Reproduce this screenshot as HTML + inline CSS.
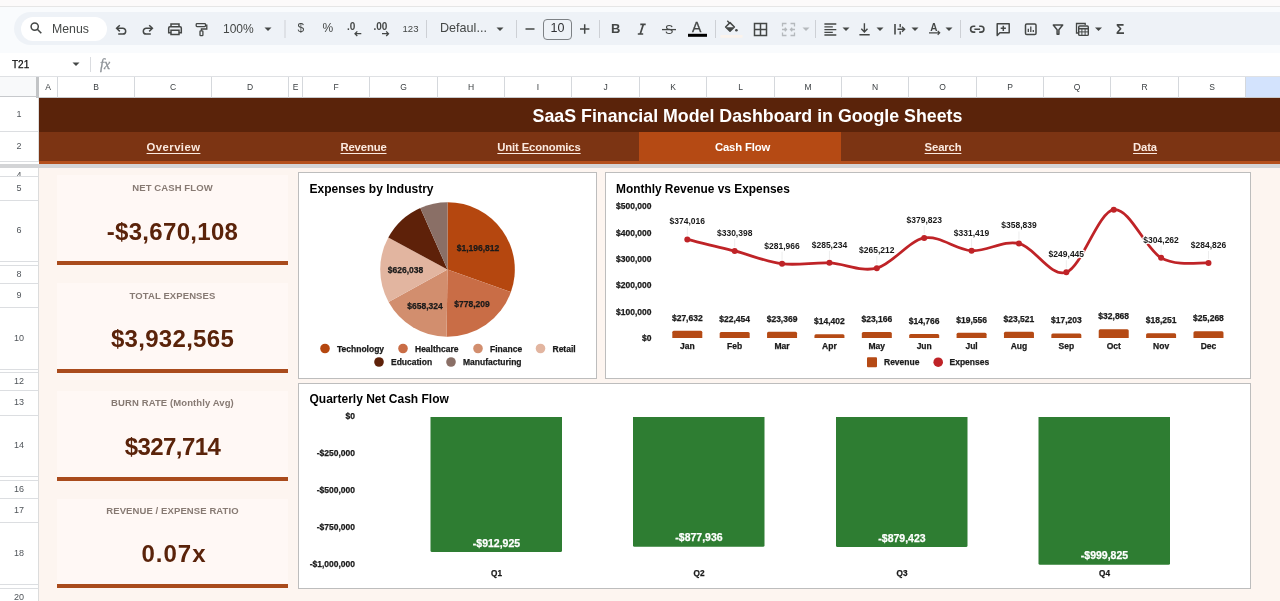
<!DOCTYPE html><html lang="en"><head><meta charset="utf-8"><title>SaaS Financial Model Dashboard in Google Sheets</title><style>
*{box-sizing:border-box;margin:0;padding:0}
html,body{width:1280px;height:601px;overflow:hidden;background:#fff}
body{font-family:"Liberation Sans",sans-serif;position:relative;color:#202124}
.a{position:absolute}
.t{position:absolute;white-space:nowrap;text-align:center}
.hdr{position:absolute;top:77px;height:21px;background:#fff;border-right:1px solid #d5d8dc;border-bottom:1px solid #c7c9cc;font-size:8.5px;color:#3c4043;text-align:center;line-height:21px}
.rh{position:absolute;left:0;width:39px;background:#fff;border-bottom:1px solid #dcdee1;border-right:1px solid #dcdcdc;font-size:9px;color:#50555a;text-align:center;overflow:hidden}
.nav{position:absolute;top:132px;height:29px;line-height:30px;color:#fbe9df;font-weight:bold;font-size:11.3px;letter-spacing:-.15px;text-align:center;text-decoration:underline;text-underline-offset:1.5px;text-decoration-thickness:1.2px}
.kl{position:absolute;left:57px;width:231px;text-align:center;font-size:9.5px;letter-spacing:.1px;font-weight:bold;color:#877a73}
.kv{position:absolute;left:57px;width:231px;text-align:center;font-size:24px;font-weight:bold;color:#5a230a;letter-spacing:.3px}
.kb{position:absolute;left:57px;width:231px;height:4px;background:#a94b1c}
.kc{position:absolute;left:57px;width:231px;background:#fff8f5}
.fr{position:absolute;background:#fff;border:1px solid #bdbdbd}
svg{position:absolute;left:0;top:0;overflow:visible}
svg text{font-family:"Liberation Sans",sans-serif}
</style></head><body>
<div class="a" style="left:0;top:0;width:1280px;height:7px;background:#fcfafa;border-bottom:1px solid #e6e6e6"></div>
<div class="a" style="left:0;top:7px;width:1280px;height:46px;background:#f9fbfd"></div>
<div class="a" style="left:14px;top:12px;width:1300px;height:33px;background:#eef2f7;border-radius:17px"></div>
<div class="a" style="left:21px;top:17px;width:86px;height:24px;background:#fff;border-radius:12px"></div>
<div class="t" style="left:52px;top:20.500px;font-size:12.300px;color:#444746;line-height:16px">Menus</div>
<div class="t" style="left:223px;top:21px;font-size:12px;color:#444746;line-height:16px">100%</div>
<div class="t" style="left:297.500px;top:20px;font-size:12px;color:#444746;line-height:16px">$</div>
<div class="t" style="left:322.500px;top:20px;font-size:12px;color:#444746;line-height:16px">%</div>
<div class="t" style="left:402.500px;top:20.500px;font-size:9.600px;color:#444746;line-height:16px">123</div>
<div class="t" style="left:440px;top:20px;font-size:12.600px;color:#444746;line-height:16px">Defaul...</div>
<div class="a" style="left:543px;top:19px;width:29px;height:21px;border:1px solid #7d8185;border-radius:4px"></div>
<div class="t" style="left:543px;width:29px;top:20.200px;font-size:12.500px;color:#303134;line-height:16px">10</div>
<div class="t" style="left:611px;top:21px;font-size:13px;font-weight:bold;color:#444746;line-height:16px">B</div>
<div class="t" style="left:692px;top:19px;font-size:14px;color:#444746;line-height:16px;-webkit-text-stroke:.3px #444746">A</div>
<div class="t" style="left:1116px;top:21px;font-size:14px;font-weight:bold;color:#444746;line-height:16px">&Sigma;</div>
<div class="t" style="left:12px;top:56.800px;font-size:10px;color:#111;-webkit-text-stroke:.25px #111;line-height:16px">T21</div>
<div class="t" style="left:100px;top:57px;font-size:14px;font-style:italic;color:#8d9297;-webkit-text-stroke:.3px #8d9297;line-height:16px;font-family:'Liberation Serif',serif">fx</div>
<div class="a" style="left:90px;top:57px;width:1px;height:15px;background:#dadce0"></div>
<svg width="1280" height="76" viewBox="0 0 1280 76"><rect x="284.5" y="20" width="1" height="18" fill="#cdd0d5"/><rect x="426" y="20" width="1" height="18" fill="#cdd0d5"/><rect x="516" y="20" width="1" height="18" fill="#cdd0d5"/><rect x="599" y="20" width="1" height="18" fill="#cdd0d5"/><rect x="715" y="20" width="1" height="18" fill="#cdd0d5"/><rect x="815" y="20" width="1" height="18" fill="#cdd0d5"/><rect x="960" y="20" width="1" height="18" fill="#cdd0d5"/><path d="M264.5 27.5h7l-3.5 3.5z" fill="#444746"/><path d="M496.5 27.5h7l-3.5 3.5z" fill="#444746"/><path d="M802.5 27.5h7l-3.5 3.5z" fill="#b5b9bd"/><path d="M842.5 27.5h7l-3.5 3.5z" fill="#444746"/><path d="M876.5 27.5h7l-3.5 3.5z" fill="#444746"/><path d="M911.5 27.5h7l-3.5 3.5z" fill="#444746"/><path d="M945.5 27.5h7l-3.5 3.5z" fill="#444746"/><path d="M1095.0 27.5h7l-3.5 3.5z" fill="#444746"/><path d="M72.5 62.5h7l-3.5 3.5z" fill="#444746"/><circle cx="34.700" cy="26.600" r="3.600" fill="none" stroke="#444746" stroke-width="1.500"/><path d="M37.300 29.200l4 4.100" stroke="#444746" stroke-width="1.600" fill="none"/><path d="M117 28.300h5.800a2.900 2.900 0 0 1 0 5.800h-4.600" fill="none" stroke="#444746" stroke-width="1.500"/><path d="M119.800 25.200l-3.200 3.100 3.200 3.100" fill="none" stroke="#444746" stroke-width="1.500"/><path d="M152 28.300h-5.800a2.900 2.900 0 0 0 0 5.800h4.600" fill="none" stroke="#444746" stroke-width="1.500"/><path d="M149.200 25.200l3.200 3.100-3.200 3.100" fill="none" stroke="#444746" stroke-width="1.500"/><path d="M171 26.700v-2.800h8v2.800M171 32.800h-2.300v-4.900a1.200 1.200 0 0 1 1.200-1.200h10.200a1.200 1.200 0 0 1 1.200 1.200v4.900h-2.300M171 30.300h8v4.300h-8z" fill="none" stroke="#444746" stroke-width="1.500"/><rect x="196.200" y="23.600" width="9.300" height="3" rx=".800" fill="none" stroke="#444746" stroke-width="1.300"/><path d="M205.500 25.100h1.300v3.900h-5.400v1.700" fill="none" stroke="#444746" stroke-width="1.300"/><rect x="200" y="30.900" width="2.900" height="4.800" rx=".700" fill="none" stroke="#444746" stroke-width="1.300"/><text x="347" y="30.300" font-size="10" font-weight="bold" fill="#444746">.0</text><path d="M355 33.700h6.300M357.300 31.400l-2.300 2.300 2.300 2.300" stroke="#444746" stroke-width="1.300" fill="none"/><text x="373.500" y="30.300" font-size="10" font-weight="bold" fill="#444746">.00</text><path d="M382 33.700h6.500M386.200 31.400l2.300 2.300-2.300 2.300" stroke="#444746" stroke-width="1.300" fill="none"/><path d="M525.500 29h9" stroke="#444746" stroke-width="1.500"/><path d="M580 29h9.400M584.700 24.300v9.400" stroke="#444746" stroke-width="1.500"/><path d="M640.300 24.300h5.400M637.800 34h5.400M643.400 24.300l-3.200 9.700" stroke="#444746" stroke-width="1.700" fill="none"/><text x="665" y="34" font-size="12.5" fill="#444746">S</text><path d="M662 29.6h14" stroke="#444746" stroke-width="1.3"/><rect x="688" y="33.800" width="19" height="3" fill="#000"/><path d="M727.300 20.800l2.400 2.400" stroke="#444746" stroke-width="1.400" fill="none"/><path d="M730 22.600l4.400 4.400-4.400 4.300-4.400-4.300z" fill="none" stroke="#444746" stroke-width="1.500" stroke-linejoin="round"/><path d="M726 27.200h8l-4 4z" fill="#444746"/><circle cx="736.400" cy="30.300" r="1.300" fill="#444746"/><rect x="720.500" y="35" width="22" height="2.800" fill="#fbf3ec"/><path d="M754.500 23.500h12v12h-12zM760.500 23.500v12M754.500 29.500h12" fill="none" stroke="#444746" stroke-width="1.500"/><path d="M782.500 26.500v-3h4M794.500 26.500v-3h-4M782.500 32.500v3h4M794.500 32.500v3h-4M782 29.500h4M795 29.500h-4M784.800 27.800l1.700 1.700-1.700 1.700M792.200 27.800l-1.700 1.700 1.700 1.700" fill="none" stroke="#b5b9bd" stroke-width="1.300"/><path d="M824.400 24h11.900M824.400 26.900h8.400M824.400 29.600h11.900M824.400 32.300h8.400M824.400 35h11.900" stroke="#444746" stroke-width="1.300"/><path d="M864.400 23.300v8.500M861.300 28.800l3.100 3.200 3.100-3.200M859.400 34.700h10.300" stroke="#444746" stroke-width="1.400" fill="none"/><path d="M895 24v10.500" stroke="#444746" stroke-width="1.600" fill="none"/><path d="M900.200 24v3.200M900.200 31.300v3.200M897.500 29.250h6.500M902 26.700l2.600 2.550-2.600 2.550" stroke="#444746" stroke-width="1.400" fill="none"/><text x="930.300" y="30.800" font-size="10" font-weight="bold" fill="#444746">A</text><path d="M929 32.800h10.500M937.700 30.800l2 2-2 2" stroke="#444746" stroke-width="1.200" fill="none"/><path d="M975.300 26.300h-1.800a2.900 2.900 0 0 0 0 5.800h1.800M979.200 26.300h1.800a2.900 2.900 0 0 1 0 5.800h-1.800M974.400 29.200h5.700" stroke="#444746" stroke-width="1.600" fill="none"/><path d="M997.200 23.800h12v9h-9.300l-2.700 2.700zM1003.300 25.700v5.200M1000.700 28.300h5.200" stroke="#444746" stroke-width="1.500" fill="none" stroke-linejoin="round"/><rect x="1025.500" y="24" width="10.500" height="10.500" rx="1.300" fill="none" stroke="#444746" stroke-width="1.500"/><path d="M1028.300 32v-3.300M1030.800 32v-5.500M1033.300 32v-2" stroke="#444746" stroke-width="1.300" fill="none"/><path d="M1053.300 25h9.400l-3.800 4.800v4.400h-1.800v-4.400z" stroke="#444746" stroke-width="1.500" fill="none" stroke-linejoin="round"/><path d="M1078 33h-1.500v-9.500h8.700v1.500" stroke="#444746" stroke-width="1.300" fill="none"/><rect x="1078.700" y="26" width="9.600" height="9.400" rx="1" fill="none" stroke="#444746" stroke-width="1.400"/><path d="M1078.700 28.700h9.600" stroke="#444746" stroke-width="1.600"/><path d="M1078.700 31.900h9.600M1081.900 28.700v6.700M1085.100 28.700v6.700" stroke="#444746" stroke-width="1" fill="none"/></svg>
<div class="a" style="left:0;top:76px;width:1280px;height:1px;background:#dfe1e4"></div>
<div class="a" style="left:0;top:77px;width:36px;height:20px;background:#f8f9fa;border-bottom:1px solid #c7c9cc"></div>
<div class="a" style="left:36px;top:77px;width:3px;height:21px;background:#c2c4c6"></div>
<div class="hdr" style="left:39px;width:19px">A</div>
<div class="hdr" style="left:58px;width:77px">B</div>
<div class="hdr" style="left:135px;width:77px">C</div>
<div class="hdr" style="left:212px;width:77px">D</div>
<div class="hdr" style="left:289px;width:14px">E</div>
<div class="hdr" style="left:303px;width:67px">F</div>
<div class="hdr" style="left:370px;width:68px">G</div>
<div class="hdr" style="left:438px;width:67px">H</div>
<div class="hdr" style="left:505px;width:67px">I</div>
<div class="hdr" style="left:572px;width:68px">J</div>
<div class="hdr" style="left:640px;width:67px">K</div>
<div class="hdr" style="left:707px;width:68px">L</div>
<div class="hdr" style="left:775px;width:67px">M</div>
<div class="hdr" style="left:842px;width:67px">N</div>
<div class="hdr" style="left:909px;width:68px">O</div>
<div class="hdr" style="left:977px;width:67px">P</div>
<div class="hdr" style="left:1044px;width:67px">Q</div>
<div class="hdr" style="left:1111px;width:68px">R</div>
<div class="hdr" style="left:1179px;width:67px">S</div>
<div class="hdr" style="left:1246px;width:40px;background:#d3e3fd"></div>
<div class="rh" style="top:98px;height:34px;line-height:32px">1</div>
<div class="rh" style="top:132px;height:30px;line-height:28px">2</div>
<div class="rh" style="top:168px;height:9px;line-height:15px">4</div>
<div class="rh" style="top:177px;height:24px;line-height:22px">5</div>
<div class="rh" style="top:201px;height:61px;line-height:59px">6</div>
<div class="rh" style="top:262px;height:4px;line-height:2px"></div>
<div class="rh" style="top:266px;height:18px;line-height:16px">8</div>
<div class="rh" style="top:284px;height:24px;line-height:22px">9</div>
<div class="rh" style="top:308px;height:62px;line-height:60px">10</div>
<div class="rh" style="top:370px;height:3px;line-height:1px"></div>
<div class="rh" style="top:373px;height:18px;line-height:16px">12</div>
<div class="rh" style="top:391px;height:25px;line-height:23px">13</div>
<div class="rh" style="top:416px;height:61px;line-height:59px">14</div>
<div class="rh" style="top:477px;height:4px;line-height:2px"></div>
<div class="rh" style="top:481px;height:18px;line-height:16px">16</div>
<div class="rh" style="top:499px;height:24px;line-height:22px">17</div>
<div class="rh" style="top:523px;height:62px;line-height:60px">18</div>
<div class="rh" style="top:585px;height:4px;line-height:2px"></div>
<div class="rh" style="top:589px;height:18px;line-height:16px">20</div>
<div class="a" style="left:39px;top:98px;width:1241px;height:503px;background:#fdf5f0"></div>
<div class="a" style="left:39px;top:98px;width:1241px;height:34.500px;background:#5a230a"></div>
<div class="t" style="left:39px;width:1241px;top:98px;height:34px;line-height:37px;font-size:17.8px;font-weight:bold;color:#fff;padding-left:176px">SaaS Financial Model Dashboard in Google Sheets</div>
<div class="a" style="left:39px;top:132px;width:1241px;height:29px;background:#7c3413"></div>
<div class="a" style="left:638.500px;top:132px;width:202.500px;height:29px;background:#b54a14"></div>
<div class="a" style="left:39px;top:161.300px;width:1241px;height:3px;background:#b4501d"></div>
<div class="a" style="left:0;top:164.200px;width:1280px;height:3.600px;background:#d3d4d6"></div>
<div class="nav" style="left:58px;width:231px;"><span style="letter-spacing:.45px">Overview</span></div>
<div class="nav" style="left:289px;width:149px;">Revenue</div>
<div class="nav" style="left:438px;width:202px;">Unit Economics</div>
<div class="nav" style="left:640px;width:202px;text-decoration:none;color:#fff;padding-left:3px">Cash Flow</div>
<div class="nav" style="left:842px;width:202px;">Search</div>
<div class="nav" style="left:1044px;width:202px;">Data</div>
<div class="kc" style="top:175px;height:86px"></div>
<div class="kl" style="top:180.3px;line-height:16px">NET CASH FLOW</div>
<div class="kv" style="top:215.85px;line-height:32px;">-$3,670,108</div>
<div class="kb" style="top:261px"></div>
<div class="kc" style="top:283px;height:86px"></div>
<div class="kl" style="top:287.55px;line-height:16px">TOTAL EXPENSES</div>
<div class="kv" style="top:323.35px;line-height:32px;">$3,932,565</div>
<div class="kb" style="top:369px"></div>
<div class="kc" style="top:391px;height:85.5px"></div>
<div class="kl" style="top:395.05px;line-height:16px">BURN RATE (Monthly Avg)</div>
<div class="kv" style="top:430.85px;line-height:32px;letter-spacing:-.6px;">$327,714</div>
<div class="kb" style="top:476.5px"></div>
<div class="kc" style="top:498.5px;height:85.5px"></div>
<div class="kl" style="top:502.8px;line-height:16px">REVENUE / EXPENSE RATIO</div>
<div class="kv" style="top:538.35px;line-height:32px;letter-spacing:1px;padding-left:3px;">0.07x</div>
<div class="kb" style="top:584px"></div>
<div class="fr" style="left:298px;top:172px;width:299px;height:207px"></div>
<div class="fr" style="left:605px;top:172px;width:646px;height:207px"></div>
<div class="fr" style="left:298px;top:383px;width:953px;height:206px"></div>
<svg width="1280" height="601" viewBox="0 0 1280 601"><text x="309.5" y="193" font-size="12" font-weight="bold" text-anchor="start" fill="#000" >Expenses by Industry</text><text x="616" y="193" font-size="11.9" font-weight="bold" text-anchor="start" fill="#000" >Monthly Revenue vs Expenses</text><text x="309.5" y="403" font-size="12" font-weight="bold" text-anchor="start" fill="#000" >Quarterly Net Cash Flow</text><path d="M447.5 269.5L447.50 202.20A67.3 67.3 0 0 1 510.92 292.03Z" fill="#b5470f"/><path d="M447.5 269.5L510.92 292.03A67.3 67.3 0 0 1 446.56 336.79Z" fill="#c96d46"/><path d="M447.5 269.5L446.56 336.79A67.3 67.3 0 0 1 388.60 302.06Z" fill="#d28e6e"/><path d="M447.5 269.5L388.60 302.06A67.3 67.3 0 0 1 388.29 237.52Z" fill="#e2b5a0"/><path d="M447.5 269.5L388.29 237.52A67.3 67.3 0 0 1 420.32 207.93Z" fill="#5e2109"/><path d="M447.5 269.5L420.32 207.93A67.3 67.3 0 0 1 447.50 202.20Z" fill="#8a6f66"/><text x="478" y="250.5" font-size="8.5" font-weight="bold" text-anchor="middle" fill="#1a1a1a" stroke="#1a1a1a" stroke-width=".25">$1,196,812</text><text x="472" y="307" font-size="8.5" font-weight="bold" text-anchor="middle" fill="#1a1a1a" stroke="#1a1a1a" stroke-width=".25">$778,209</text><text x="425" y="309" font-size="8.5" font-weight="bold" text-anchor="middle" fill="#1a1a1a" stroke="#1a1a1a" stroke-width=".25">$658,324</text><text x="405.5" y="272.5" font-size="8.5" font-weight="bold" text-anchor="middle" fill="#1a1a1a" stroke="#1a1a1a" stroke-width=".25">$626,038</text><circle cx="325" cy="348.5" r="4.800" fill="#b5470f"/><text x="337" y="351.5" font-size="8.5" font-weight="bold" text-anchor="start" fill="#1a1a1a" stroke="#1a1a1a" stroke-width=".25">Technology</text><circle cx="403" cy="348.5" r="4.800" fill="#c96d46"/><text x="415" y="351.5" font-size="8.5" font-weight="bold" text-anchor="start" fill="#1a1a1a" stroke="#1a1a1a" stroke-width=".25">Healthcare</text><circle cx="478" cy="348.5" r="4.800" fill="#d28e6e"/><text x="490" y="351.5" font-size="8.5" font-weight="bold" text-anchor="start" fill="#1a1a1a" stroke="#1a1a1a" stroke-width=".25">Finance</text><circle cx="540.5" cy="348.5" r="4.800" fill="#e2b5a0"/><text x="552.5" y="351.5" font-size="8.5" font-weight="bold" text-anchor="start" fill="#1a1a1a" stroke="#1a1a1a" stroke-width=".25">Retail</text><circle cx="379" cy="362" r="4.800" fill="#5e2109"/><text x="391" y="365" font-size="8.5" font-weight="bold" text-anchor="start" fill="#1a1a1a" stroke="#1a1a1a" stroke-width=".25">Education</text><circle cx="451" cy="362" r="4.800" fill="#8a6f66"/><text x="463" y="365" font-size="8.5" font-weight="bold" text-anchor="start" fill="#1a1a1a" stroke="#1a1a1a" stroke-width=".25">Manufacturing</text><text x="651.5" y="341.0" font-size="8.5" font-weight="bold" text-anchor="end" fill="#1a1a1a" stroke="#1a1a1a" stroke-width=".25">$0</text><text x="651.5" y="314.66" font-size="8.5" font-weight="bold" text-anchor="end" fill="#1a1a1a" stroke="#1a1a1a" stroke-width=".25">$100,000</text><text x="651.5" y="288.32" font-size="8.5" font-weight="bold" text-anchor="end" fill="#1a1a1a" stroke="#1a1a1a" stroke-width=".25">$200,000</text><text x="651.5" y="261.98" font-size="8.5" font-weight="bold" text-anchor="end" fill="#1a1a1a" stroke="#1a1a1a" stroke-width=".25">$300,000</text><text x="651.5" y="235.64" font-size="8.5" font-weight="bold" text-anchor="end" fill="#1a1a1a" stroke="#1a1a1a" stroke-width=".25">$400,000</text><text x="651.5" y="209.3" font-size="8.5" font-weight="bold" text-anchor="end" fill="#1a1a1a" stroke="#1a1a1a" stroke-width=".25">$500,000</text><text x="687.3" y="349" font-size="8.5" font-weight="bold" text-anchor="middle" fill="#1a1a1a" stroke="#1a1a1a" stroke-width=".25">Jan</text><path d="M672.3 338v-5.78q0 -1.500 1.500 -1.500h27q1.500 0 1.500 1.500v5.78z" fill="#b54a15"/><text x="687.3" y="320.7217312" font-size="8.5" font-weight="bold" text-anchor="middle" fill="#1a1a1a" stroke="#1a1a1a" stroke-width=".25">$27,632</text><text x="734.68" y="349" font-size="8.5" font-weight="bold" text-anchor="middle" fill="#1a1a1a" stroke="#1a1a1a" stroke-width=".25">Feb</text><path d="M719.68 338v-4.41q0 -1.500 1.500 -1.500h27q1.500 0 1.500 1.500v4.41z" fill="#b54a15"/><text x="734.68" y="322.0856164" font-size="8.5" font-weight="bold" text-anchor="middle" fill="#1a1a1a" stroke="#1a1a1a" stroke-width=".25">$22,454</text><text x="782.06" y="349" font-size="8.5" font-weight="bold" text-anchor="middle" fill="#1a1a1a" stroke="#1a1a1a" stroke-width=".25">Mar</text><path d="M767.06 338v-4.66q0 -1.500 1.500 -1.500h27q1.500 0 1.500 1.500v4.66z" fill="#b54a15"/><text x="782.06" y="321.8446054" font-size="8.5" font-weight="bold" text-anchor="middle" fill="#1a1a1a" stroke="#1a1a1a" stroke-width=".25">$23,369</text><text x="829.4399999999999" y="349" font-size="8.5" font-weight="bold" text-anchor="middle" fill="#1a1a1a" stroke="#1a1a1a" stroke-width=".25">Apr</text><path d="M814.4399999999999 338v-2.29q0 -1.500 1.500 -1.500h27q1.500 0 1.500 1.500v2.29z" fill="#b54a15"/><text x="829.4399999999999" y="324.2065132" font-size="8.5" font-weight="bold" text-anchor="middle" fill="#1a1a1a" stroke="#1a1a1a" stroke-width=".25">$14,402</text><text x="876.8199999999999" y="349" font-size="8.5" font-weight="bold" text-anchor="middle" fill="#1a1a1a" stroke="#1a1a1a" stroke-width=".25">May</text><path d="M861.8199999999999 338v-4.60q0 -1.500 1.500 -1.500h27q1.500 0 1.500 1.500v4.60z" fill="#b54a15"/><text x="876.8199999999999" y="321.8980756" font-size="8.5" font-weight="bold" text-anchor="middle" fill="#1a1a1a" stroke="#1a1a1a" stroke-width=".25">$23,166</text><text x="924.1999999999999" y="349" font-size="8.5" font-weight="bold" text-anchor="middle" fill="#1a1a1a" stroke="#1a1a1a" stroke-width=".25">Jun</text><path d="M909.1999999999999 338v-2.39q0 -1.500 1.500 -1.500h27q1.500 0 1.500 1.500v2.39z" fill="#b54a15"/><text x="924.1999999999999" y="324.1106356" font-size="8.5" font-weight="bold" text-anchor="middle" fill="#1a1a1a" stroke="#1a1a1a" stroke-width=".25">$14,766</text><text x="971.5799999999999" y="349" font-size="8.5" font-weight="bold" text-anchor="middle" fill="#1a1a1a" stroke="#1a1a1a" stroke-width=".25">Jul</text><path d="M956.5799999999999 338v-3.65q0 -1.500 1.500 -1.500h27q1.500 0 1.500 1.500v3.65z" fill="#b54a15"/><text x="971.5799999999999" y="322.8489496" font-size="8.5" font-weight="bold" text-anchor="middle" fill="#1a1a1a" stroke="#1a1a1a" stroke-width=".25">$19,556</text><text x="1018.96" y="349" font-size="8.5" font-weight="bold" text-anchor="middle" fill="#1a1a1a" stroke="#1a1a1a" stroke-width=".25">Aug</text><path d="M1003.96 338v-4.70q0 -1.500 1.500 -1.500h27q1.500 0 1.500 1.500v4.70z" fill="#b54a15"/><text x="1018.96" y="321.8045686" font-size="8.5" font-weight="bold" text-anchor="middle" fill="#1a1a1a" stroke="#1a1a1a" stroke-width=".25">$23,521</text><text x="1066.34" y="349" font-size="8.5" font-weight="bold" text-anchor="middle" fill="#1a1a1a" stroke="#1a1a1a" stroke-width=".25">Sep</text><path d="M1051.34 338v-3.03q0 -1.500 1.500 -1.500h27q1.500 0 1.500 1.500v3.03z" fill="#b54a15"/><text x="1066.34" y="323.4687298" font-size="8.5" font-weight="bold" text-anchor="middle" fill="#1a1a1a" stroke="#1a1a1a" stroke-width=".25">$17,203</text><text x="1113.72" y="349" font-size="8.5" font-weight="bold" text-anchor="middle" fill="#1a1a1a" stroke="#1a1a1a" stroke-width=".25">Oct</text><path d="M1098.72 338v-7.16q0 -1.500 1.500 -1.500h27q1.500 0 1.500 1.500v7.16z" fill="#b54a15"/><text x="1113.72" y="319.3425688" font-size="8.5" font-weight="bold" text-anchor="middle" fill="#1a1a1a" stroke="#1a1a1a" stroke-width=".25">$32,868</text><text x="1161.1" y="349" font-size="8.5" font-weight="bold" text-anchor="middle" fill="#1a1a1a" stroke="#1a1a1a" stroke-width=".25">Nov</text><path d="M1146.1 338v-3.31q0 -1.500 1.500 -1.500h27q1.500 0 1.500 1.500v3.31z" fill="#b54a15"/><text x="1161.1" y="323.1926866" font-size="8.5" font-weight="bold" text-anchor="middle" fill="#1a1a1a" stroke="#1a1a1a" stroke-width=".25">$18,251</text><text x="1208.48" y="349" font-size="8.5" font-weight="bold" text-anchor="middle" fill="#1a1a1a" stroke="#1a1a1a" stroke-width=".25">Dec</text><path d="M1193.48 338v-5.16q0 -1.500 1.500 -1.500h27q1.500 0 1.500 1.500v5.16z" fill="#b54a15"/><text x="1208.48" y="321.3444088" font-size="8.5" font-weight="bold" text-anchor="middle" fill="#1a1a1a" stroke="#1a1a1a" stroke-width=".25">$25,268</text><path d="M687.30 239.48C695.20 241.40 718.89 246.93 734.68 250.97C750.47 255.01 766.27 261.75 782.06 263.73C797.85 265.71 813.65 262.13 829.44 262.87C845.23 263.60 861.03 272.30 876.82 268.14C892.61 263.99 908.41 240.86 924.20 237.95C939.99 235.05 955.79 249.78 971.58 250.70C987.37 251.63 1003.17 239.88 1018.96 243.48C1034.75 247.08 1050.55 277.93 1066.34 272.30C1082.13 266.66 1097.93 212.10 1113.72 209.69C1129.51 207.28 1145.31 248.98 1161.10 257.86C1176.89 266.74 1200.58 262.12 1208.48 262.98" fill="none" stroke="#bf2327" stroke-width="2.800"/><circle cx="687.30" cy="239.48" r="3" fill="#bf2327"/><path d="M687.30 227.48v8" stroke="#ededed" stroke-width="1"/><text x="687.3" y="224.4841856" font-size="8.5" font-weight="bold" text-anchor="middle" fill="#1a1a1a" stroke="#fff" stroke-width="2.500" paint-order="stroke" stroke-linejoin="round">$374,016</text><circle cx="734.68" cy="250.97" r="3" fill="#bf2327"/><path d="M734.68 238.97v8" stroke="#ededed" stroke-width="1"/><text x="734.68" y="235.9731668" font-size="8.5" font-weight="bold" text-anchor="middle" fill="#1a1a1a" stroke="#fff" stroke-width="2.500" paint-order="stroke" stroke-linejoin="round">$330,398</text><circle cx="782.06" cy="263.73" r="3" fill="#bf2327"/><path d="M782.06 251.73v8" stroke="#ededed" stroke-width="1"/><text x="782.06" y="248.7301556" font-size="8.5" font-weight="bold" text-anchor="middle" fill="#1a1a1a" stroke="#fff" stroke-width="2.500" paint-order="stroke" stroke-linejoin="round">$281,966</text><circle cx="829.44" cy="262.87" r="3" fill="#bf2327"/><path d="M829.44 250.87v8" stroke="#ededed" stroke-width="1"/><text x="829.4399999999999" y="247.8693644" font-size="8.5" font-weight="bold" text-anchor="middle" fill="#1a1a1a" stroke="#fff" stroke-width="2.500" paint-order="stroke" stroke-linejoin="round">$285,234</text><circle cx="876.82" cy="268.14" r="3" fill="#bf2327"/><path d="M876.82 256.14v8" stroke="#ededed" stroke-width="1"/><text x="876.8199999999999" y="253.1431592" font-size="8.5" font-weight="bold" text-anchor="middle" fill="#1a1a1a" stroke="#fff" stroke-width="2.500" paint-order="stroke" stroke-linejoin="round">$265,212</text><circle cx="924.20" cy="237.95" r="3" fill="#bf2327"/><path d="M924.20 225.95v8" stroke="#ededed" stroke-width="1"/><text x="924.1999999999999" y="222.95462179999998" font-size="8.5" font-weight="bold" text-anchor="middle" fill="#1a1a1a" stroke="#fff" stroke-width="2.500" paint-order="stroke" stroke-linejoin="round">$379,823</text><circle cx="971.58" cy="250.70" r="3" fill="#bf2327"/><path d="M971.58 238.70v8" stroke="#ededed" stroke-width="1"/><text x="971.5799999999999" y="235.70423540000002" font-size="8.5" font-weight="bold" text-anchor="middle" fill="#1a1a1a" stroke="#fff" stroke-width="2.500" paint-order="stroke" stroke-linejoin="round">$331,419</text><circle cx="1018.96" cy="243.48" r="3" fill="#bf2327"/><path d="M1018.96 231.48v8" stroke="#ededed" stroke-width="1"/><text x="1018.96" y="228.4818074" font-size="8.5" font-weight="bold" text-anchor="middle" fill="#1a1a1a" stroke="#fff" stroke-width="2.500" paint-order="stroke" stroke-linejoin="round">$358,839</text><circle cx="1066.34" cy="272.30" r="3" fill="#bf2327"/><path d="M1066.34 260.30v8" stroke="#ededed" stroke-width="1"/><text x="1066.34" y="257.29618700000003" font-size="8.5" font-weight="bold" text-anchor="middle" fill="#1a1a1a" stroke="#fff" stroke-width="2.500" paint-order="stroke" stroke-linejoin="round">$249,445</text><circle cx="1113.72" cy="209.69" r="3" fill="#bf2327"/><circle cx="1161.10" cy="257.86" r="3" fill="#bf2327"/><path d="M1161.10 245.86v8" stroke="#ededed" stroke-width="1"/><text x="1161.1" y="242.8573892" font-size="8.5" font-weight="bold" text-anchor="middle" fill="#1a1a1a" stroke="#fff" stroke-width="2.500" paint-order="stroke" stroke-linejoin="round">$304,262</text><circle cx="1208.48" cy="262.98" r="3" fill="#bf2327"/><path d="M1208.48 250.98v8" stroke="#ededed" stroke-width="1"/><text x="1208.48" y="247.97683159999997" font-size="8.5" font-weight="bold" text-anchor="middle" fill="#1a1a1a" stroke="#fff" stroke-width="2.500" paint-order="stroke" stroke-linejoin="round">$284,826</text><rect x="867" y="357.300" width="10" height="10" rx="1" fill="#b54a15"/><text x="884" y="365" font-size="8.5" font-weight="bold" text-anchor="start" fill="#1a1a1a" stroke="#1a1a1a" stroke-width=".25">Revenue</text><circle cx="938.200" cy="362.200" r="4.800" fill="#bf2327"/><text x="949.5" y="365" font-size="8.5" font-weight="bold" text-anchor="start" fill="#1a1a1a" stroke="#1a1a1a" stroke-width=".25">Expenses</text><text x="355" y="419.1" font-size="8.5" font-weight="bold" text-anchor="end" fill="#1a1a1a" stroke="#1a1a1a" stroke-width=".25">$0</text><text x="355" y="456.07500000000005" font-size="8.5" font-weight="bold" text-anchor="end" fill="#1a1a1a" stroke="#1a1a1a" stroke-width=".25">-$250,000</text><text x="355" y="493.05" font-size="8.5" font-weight="bold" text-anchor="end" fill="#1a1a1a" stroke="#1a1a1a" stroke-width=".25">-$500,000</text><text x="355" y="530.025" font-size="8.5" font-weight="bold" text-anchor="end" fill="#1a1a1a" stroke="#1a1a1a" stroke-width=".25">-$750,000</text><text x="355" y="567.0" font-size="8.5" font-weight="bold" text-anchor="end" fill="#1a1a1a" stroke="#1a1a1a" stroke-width=".25">-$1,000,000</text><path d="M430.5 417h131.500v133.52q0 1.500 -1.500 1.500h-128.500q-1.500 0 -1.500 -1.500z" fill="#2e7d32"/><text x="496.5" y="546.5216075" font-size="10.5" font-weight="bold" text-anchor="middle" fill="#fff" stroke="#fff" stroke-width=".25">-$912,925</text><text x="496.5" y="575.5" font-size="8.2" font-weight="bold" text-anchor="middle" fill="#1a1a1a" stroke="#1a1a1a" stroke-width=".25">Q1</text><path d="M633 417h131.500v128.35q0 1.500 -1.500 1.500h-128.500q-1.500 0 -1.500 -1.500z" fill="#2e7d32"/><text x="699" y="541.3467344" font-size="10.5" font-weight="bold" text-anchor="middle" fill="#fff" stroke="#fff" stroke-width=".25">-$877,936</text><text x="699" y="575.5" font-size="8.2" font-weight="bold" text-anchor="middle" fill="#1a1a1a" stroke="#1a1a1a" stroke-width=".25">Q2</text><path d="M836 417h131.500v128.57q0 1.500 -1.500 1.500h-128.500q-1.500 0 -1.500 -1.500z" fill="#2e7d32"/><text x="902" y="541.5666616999999" font-size="10.5" font-weight="bold" text-anchor="middle" fill="#fff" stroke="#fff" stroke-width=".25">-$879,423</text><text x="902" y="575.5" font-size="8.2" font-weight="bold" text-anchor="middle" fill="#1a1a1a" stroke="#1a1a1a" stroke-width=".25">Q3</text><path d="M1038.5 417h131.500v146.37q0 1.500 -1.500 1.500h-128.500q-1.500 0 -1.500 -1.500z" fill="#2e7d32"/><text x="1104.5" y="559.3741175" font-size="10.5" font-weight="bold" text-anchor="middle" fill="#fff" stroke="#fff" stroke-width=".25">-$999,825</text><text x="1104.5" y="575.5" font-size="8.2" font-weight="bold" text-anchor="middle" fill="#1a1a1a" stroke="#1a1a1a" stroke-width=".25">Q4</text></svg>
</body></html>
